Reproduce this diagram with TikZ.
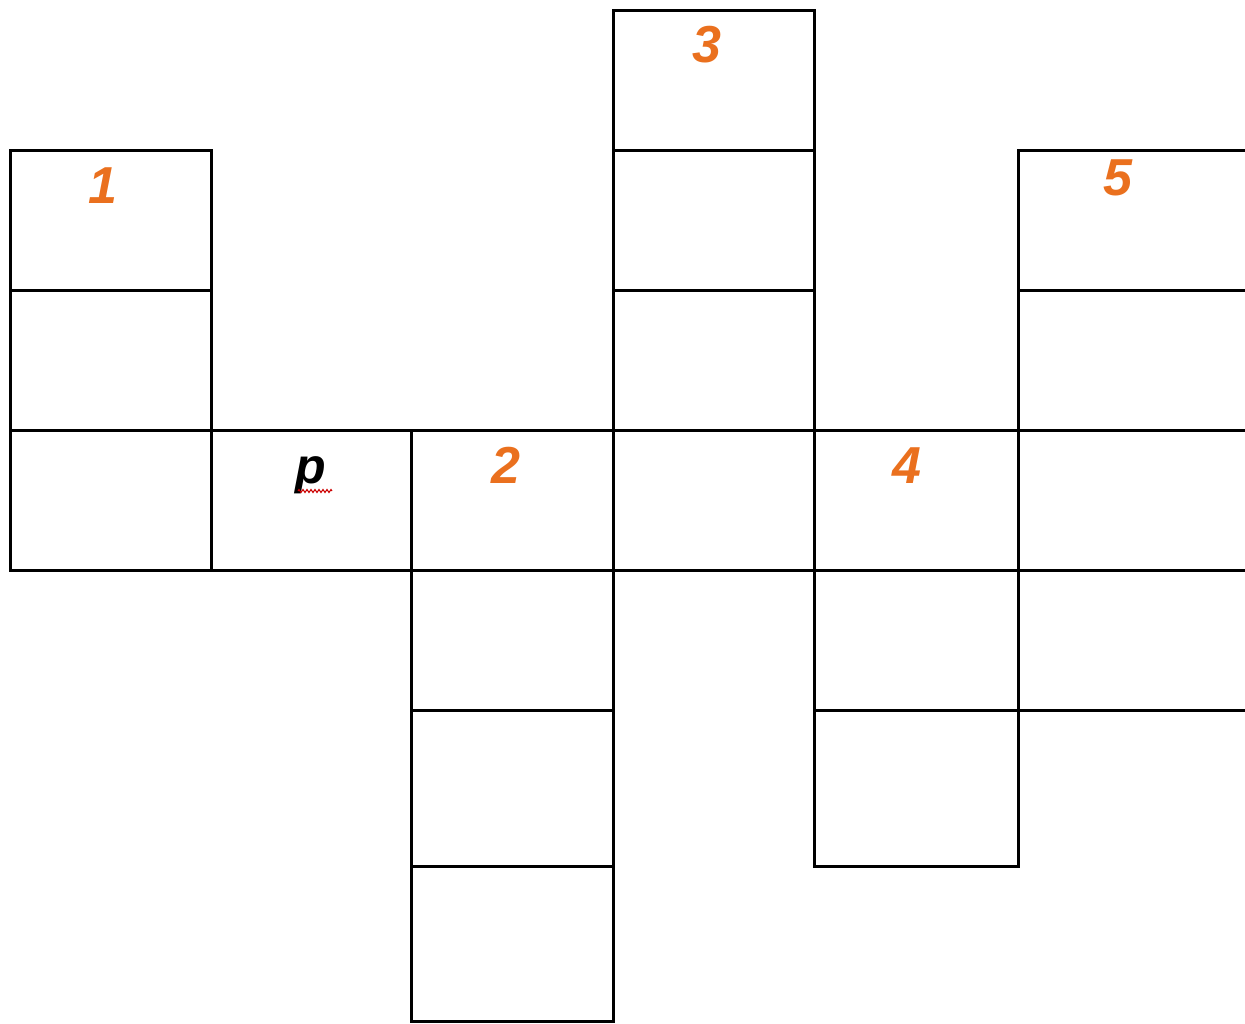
\documentclass[tikz,border=0pt]{standalone}
\usepackage{fontspec}
\setmainfont{Liberation Sans}
\usetikzlibrary{decorations.pathmorphing}
\definecolor{numorange}{RGB}{234,112,30}
\tikzset{
  cell/.style={draw=black, line width=3pt},
  num/.style={text=numorange, font=\fontsize{52}{52}\selectfont\bfseries\itshape, inner sep=0pt, anchor=base},
  letter/.style={text=black, font=\fontsize{50}{50}\selectfont\bfseries\itshape, inner sep=0pt, anchor=base},
  squiggle/.style={draw=red!80!black, line width=1pt, decorate, decoration={zigzag, segment length=4pt, amplitude=1.5pt}}
}
\begin{document}
\begin{tikzpicture}[x=1pt,y=-1pt]
\useasboundingbox (0,0) rectangle (1245,1023);
\begin{scope}
\clip (0,0) rectangle (1245,1023);
% column 1
\draw[cell] (10,150) rectangle (211,290);
\draw[cell] (10,290) rectangle (211,430);
\draw[cell] (10,430) rectangle (211,570);
% column 2
\draw[cell] (211,430) rectangle (411,570);
% column 3
\draw[cell] (411,430) rectangle (613,570);
\draw[cell] (411,570) rectangle (613,710);
\draw[cell] (411,710) rectangle (613,866);
\draw[cell] (411,866) rectangle (613,1021);
% column 4
\draw[cell] (613,10) rectangle (814,150);
\draw[cell] (613,150) rectangle (814,290);
\draw[cell] (613,290) rectangle (814,430);
\draw[cell] (613,430) rectangle (814,570);
% column 5
\draw[cell] (814,430) rectangle (1018,570);
\draw[cell] (814,570) rectangle (1018,710);
\draw[cell] (814,710) rectangle (1018,866);
% column 6 (cut off at right edge)
\draw[cell] (1018,150) rectangle (1260,290);
\draw[cell] (1018,290) rectangle (1260,430);
\draw[cell] (1018,430) rectangle (1260,570);
\draw[cell] (1018,570) rectangle (1260,710);
\end{scope}
% labels
\node[num] (n1) at (103,203) {1};
\node[num] (n2) at (506,483) {2};
\node[num] (n3) at (707,62) {3};
\node[num] (n4) at (907,483) {4};
\node[num] (n5) at (1118,195) {5};
\node[letter] (lp) at (311,483) {p};
\coordinate (sqa) at (298,491);
\coordinate (sqb) at (332,491);
\draw[squiggle] (sqa) -- (sqb);
\end{tikzpicture}
\end{document}
